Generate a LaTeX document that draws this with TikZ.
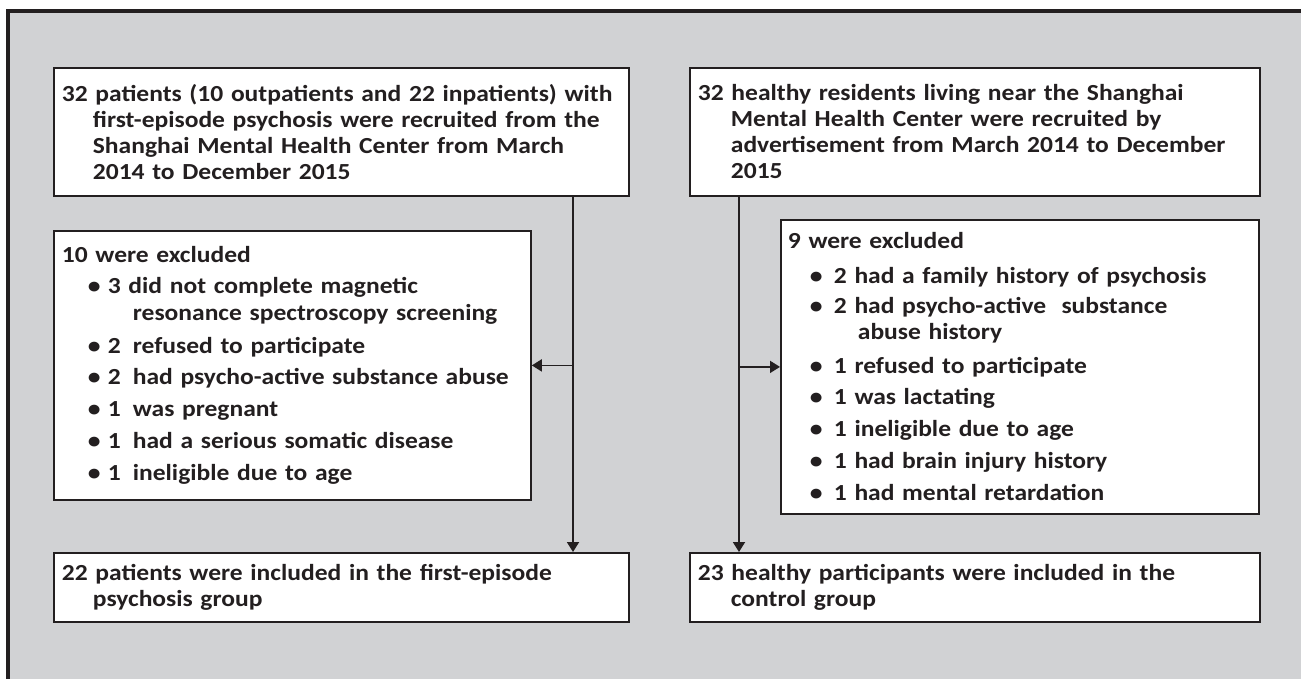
\documentclass[tikz,border=0pt]{standalone}
\usepackage{fontspec}
\setmainfont{Carlito}[FakeStretch=1.11]
\usetikzlibrary{arrows.meta}
\definecolor{bg}{RGB}{209,210,212}
\definecolor{ink}{RGB}{35,31,32}
\newcommand{\bul}{\makebox[20pt][l]{\textbullet}}
\newcommand{\bulr}{\makebox[24pt][l]{\textbullet}}
\newcommand{\num}[1]{\makebox[25pt][l]{#1}}
\begin{document}
\begin{tikzpicture}[x=1pt,y=-1pt,
  box/.style={draw=ink, line width=1.8pt, fill=white, anchor=north west,
    inner xsep=8pt, inner ysep=0pt, align=left, text=ink,
    font=\bfseries\fontsize{23}{26}\selectfont},
  arr/.style={draw=ink, line width=1.8pt, -{Triangle[length=10pt,width=12pt]}}]
\useasboundingbox (0,0) rectangle (1301,678);
\begin{scope}
\clip (0,0) rectangle (1301,678);
\fill[white] (0,0) rectangle (1301,678);
\filldraw[fill=bg, draw=ink, line width=4pt] (8,11) rectangle (1330,710);
\end{scope}

\node[box, text width=559pt, minimum width=575pt, minimum height=128pt] (b1) at (53,67)
{32 patients (10 outpatients and 22 inpatients) with\\
\hspace*{31pt}first-episode psychosis were recruited from the\\
\hspace*{31pt}Shanghai Mental Health Center from March\\
\hspace*{31pt}2014 to December 2015};

\node[box, text width=461pt, minimum width=477pt, minimum height=269pt] (ex1) at (53,230)
{10 were excluded\\[5pt]
\hspace*{26pt}\bul 3 did not complete magnetic\\[1pt]
\hspace*{71pt}resonance spectroscopy screening\\[7pt]
\hspace*{26pt}\bul\num{2}refused to participate\\[5pt]
\hspace*{26pt}\bul\num{2}had psycho-active substance abuse\\[6pt]
\hspace*{26pt}\bul\num{1}was pregnant\\[6pt]
\hspace*{26pt}\bul\num{1}had a serious somatic disease\\[6pt]
\hspace*{26pt}\bul\num{1}ineligible due to age};

\node[box, text width=559pt, minimum width=575pt, minimum height=69pt] (b3) at (53,552)
{22 patients were included in the first-episode\\
\hspace*{31pt}psychosis group};

\node[box, text width=554pt, minimum width=570pt, minimum height=128pt] (b2) at (689,67)
{32 healthy residents living near the Shanghai\\
\hspace*{33pt}Mental Health Center were recruited by\\
\hspace*{33pt}advertisement from March 2014 to December\\
\hspace*{33pt}2015};

\node[box, text width=464pt, minimum width=478pt, minimum height=294pt, inner xsep=7pt] (ex2) at (780,219)
{9 were excluded\\[9pt]
\hspace*{22pt}\bulr 2 had a family history of psychosis\\[4pt]
\hspace*{22pt}\bulr 2 had psycho-active\ \ substance\\
\hspace*{70pt}abuse history\\[8pt]
\hspace*{22pt}\bulr 1 refused to participate\\[5pt]
\hspace*{22pt}\bulr 1 was lactating\\[6pt]
\hspace*{22pt}\bulr 1 ineligible due to age\\[6pt]
\hspace*{22pt}\bulr 1 had brain injury history\\[6pt]
\hspace*{22pt}\bulr 1 had mental retardation};

\node[box, text width=554pt, minimum width=570pt, minimum height=69pt] (b4) at (689,552)
{23 healthy participants were included in the\\
\hspace*{33pt}control group};

\coordinate (lx) at (573,0);
\coordinate (rx) at (739,0);
\draw[arr] (b1.south -| lx) -- (b3.north -| lx);
\draw[arr] (lx |- ex1.east) -- (ex1.east);
\draw[arr] (b2.south -| rx) -- (b4.north -| rx);
\draw[arr] (rx |- ex2.west) -- (ex2.west);
\end{tikzpicture}
\end{document}
